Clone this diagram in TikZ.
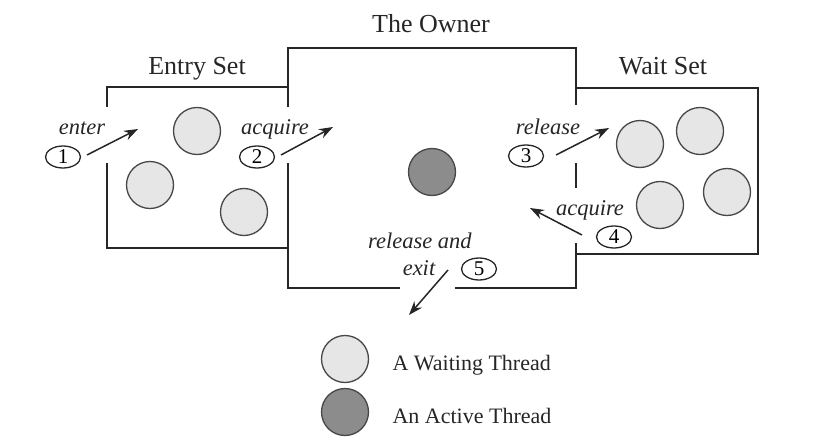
\documentclass[tikz,border=0pt]{standalone}
\usepackage{fontspec}
\setmainfont{Liberation Serif}
\usetikzlibrary{arrows.meta,shapes.geometric}
\definecolor{ln}{HTML}{262626}
\definecolor{waitfill}{HTML}{E6E6E6}
\definecolor{actfill}{HTML}{8C8C8C}
\begin{document}
\begin{tikzpicture}[x=1pt,y=-1pt,
  wall/.style={draw=ln,line width=2pt},
  waiting/.style={circle,draw=ln!85,line width=1.3pt,fill=waitfill,minimum size=47pt,inner sep=0pt},
  active/.style={circle,draw=ln!85,line width=1.3pt,fill=actfill,minimum size=47pt,inner sep=0pt},
  num/.style={ellipse,draw=ln,line width=1.3pt,minimum width=35pt,minimum height=22pt,inner sep=0pt,font=\fontsize{21}{21}\selectfont},
  title/.style={anchor=base,text=ln,font=\fontsize{26}{28}\selectfont},
  lab/.style={anchor=base,text=ln,font=\fontsize{22.5}{24}\selectfont\itshape},
  legend/.style={anchor=base west,text=ln,font=\fontsize{22}{24}\selectfont},
  arr/.style={draw=ln,line width=1.5pt,-{Stealth[length=14pt,width=10pt]}}]
\useasboundingbox (0,0) rectangle (817,444);

% walls
\draw[wall] (107,107) -- (107,87) -- (288,87);
\draw[wall] (107,163) -- (107,248) -- (288,248);
\draw[wall] (288,107) -- (288,48) -- (576,48) -- (576,105);
\draw[wall] (288,163) -- (288,288) -- (400,288);
\draw[wall] (455,288) -- (576,288) -- (576,243);
\draw[wall] (576,163) -- (576,188);
\draw[wall] (576,88) -- (758,88) -- (758,254) -- (576,254);

% titles
\node[title] (tentry) at (197,75) {Entry Set};
\node[title] (towner) at (431,33) {The Owner};
\node[title] (twait) at (663,75) {Wait Set};

% threads
\node[waiting] (e1) at (197,131) {};
\node[waiting] (e2) at (150,185) {};
\node[waiting] (e3) at (244,212) {};
\node[active] (own) at (432,172) {};
\node[waiting] (w1) at (640,144) {};
\node[waiting] (w2) at (700,131) {};
\node[waiting] (w3) at (660,205) {};
\node[waiting] (w4) at (727,192) {};

% numbered ellipses
\node[num] (n1) at (63,157) {1};
\node[num] (n2) at (257,157) {2};
\node[num] (n3) at (526,156) {3};
\node[num] (n4) at (614,237) {4};
\node[num] (n5) at (479,269) {5};

% labels
\node[lab] (lenter) at (82,135) {enter};
\node[lab] (lacq1) at (275,135) {acquire};
\node[lab] (lrel) at (548,135) {release};
\node[lab] (lacq2) at (590,215) {acquire};
\node[lab] (lrelexit1) at (420,248) {release and};
\node[lab] (lrelexit2) at (419,275) {exit};

% arrows
\coordinate (a1s) at (87,155);  \coordinate (a1e) at (138,129);
\coordinate (a2s) at (281,155); \coordinate (a2e) at (333,127);
\coordinate (a3s) at (556,155); \coordinate (a3e) at (609,128);
\coordinate (a4s) at (582,235); \coordinate (a4e) at (530,208);
\coordinate (a5s) at (448,270); \coordinate (a5e) at (409,315);
\draw[arr] (a1s) -- (a1e);
\draw[arr] (a2s) -- (a2e);
\draw[arr] (a3s) -- (a3e);
\draw[arr] (a4s) -- (a4e);
\draw[arr] (a5s) -- (a5e);

% legend
\node[waiting] (lgw) at (345,359) {};
\node[active] (lga) at (345,412) {};
\node[legend] (lgwt) at (389,370) {A Waiting Thread};
\node[legend] (lgat) at (389,423) {An Active Thread};
\end{tikzpicture}
\end{document}
